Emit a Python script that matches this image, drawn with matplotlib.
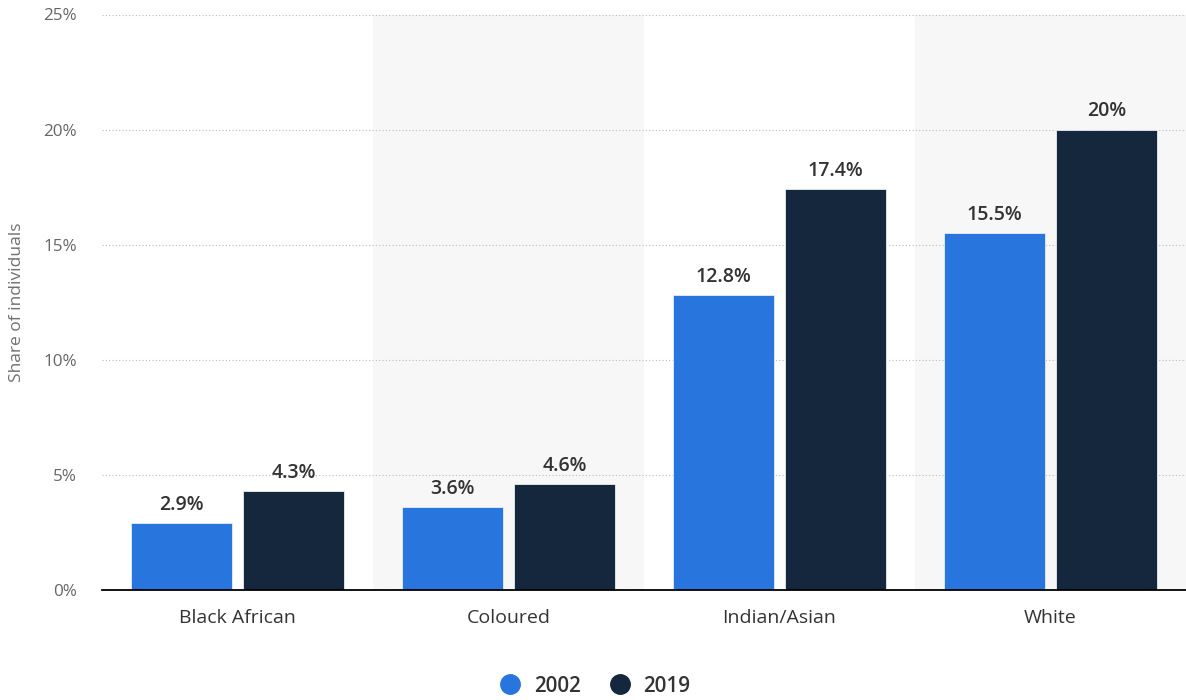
import matplotlib
matplotlib.use("Agg")
import matplotlib.pyplot as plt
from matplotlib.lines import Line2D
import numpy as np

categories = ["Black African", "Coloured", "Indian/Asian", "White"]
series_names = ["2002", "2019"]
values_2002 = [2.9, 3.6, 12.8, 15.5]
values_2019 = [4.3, 4.6, 17.4, 20.0]
value_labels_2002 = ["2.9%", "3.6%", "12.8%", "15.5%"]
value_labels_2019 = ["4.3%", "4.6%", "17.4%", "20%"]
y_ticks = [0, 5, 10, 15, 20, 25]
y_tick_labels = ["0%", "5%", "10%", "15%", "20%", "25%"]

blue = "#2876DD"
navy = "#14273D"

plt.rcParams["font.family"] = ["Open Sans", "DejaVu Sans"]

fig = plt.figure(figsize=(11.86, 7.0), dpi=100)
ax = fig.add_axes([102 / 1186, 110 / 700, 1084 / 1186, 575.5 / 700])

x = np.arange(len(categories))
width = 0.375
offset = 0.206

# alternating group shading
for i in x:
    if i % 2 == 1:
        ax.axvspan(i - 0.5, i + 0.5, color="#F7F7F7", zorder=0, lw=0)

bars1 = ax.bar(x - offset, values_2002, width, color=blue, zorder=3,
               edgecolor="#E8EEF6", linewidth=0.6, label=series_names[0])
bars2 = ax.bar(x + offset, values_2019, width, color=navy, zorder=3,
               edgecolor="#E8EEF6", linewidth=0.6, label=series_names[1])

for bars, labels in ((bars1, value_labels_2002), (bars2, value_labels_2019)):
    for b, lab in zip(bars, labels):
        ax.annotate(lab, (b.get_x() + b.get_width() / 2, b.get_height()),
                    xytext=(0, 6), textcoords="offset points",
                    ha="center", va="bottom", fontsize=14,
                    fontweight="semibold", color="#333333", zorder=4)

ax.set_xlim(-0.5, 3.5)
ax.set_ylim(0, 25)
ax.set_yticks(y_ticks)
ax.set_yticklabels(y_tick_labels)
ax.set_xticks(x)
ax.set_xticklabels(categories)

ax.yaxis.grid(True, linestyle=(0, (1, 2)), color="#BBBBBB", linewidth=0.8, zorder=1)
ax.set_axisbelow(True)
for s in ["top", "right", "left"]:
    ax.spines[s].set_visible(False)
ax.spines["bottom"].set_color("#000000")
ax.spines["bottom"].set_linewidth(1.3)
ax.spines["bottom"].set_zorder(5)

ax.tick_params(axis="y", length=0, pad=18, labelsize=12.3, labelcolor="#666666")
ax.tick_params(axis="x", length=0, pad=14, labelsize=14, labelcolor="#333333")

fig.text(17 / 1186, 1 - 302 / 700, "Share of individuals", rotation=90,
         ha="center", va="center", fontsize=12.5, color="#707070")

handles = [Line2D([], [], marker="o", linestyle="none", markersize=14,
                  markerfacecolor=c, markeredgecolor=c)
           for c in (blue, navy)]
leg = fig.legend(handles, series_names, loc="center", bbox_to_anchor=(590 / 1186, 1 - 686 / 700),
                 ncol=2, frameon=False, handletextpad=0.15, columnspacing=0.9,
                 prop={"size": 14.8, "weight": "semibold"})
for t in leg.get_texts():
    t.set_color("#333333")

fig.savefig("out.png", dpi=100, facecolor="white")
